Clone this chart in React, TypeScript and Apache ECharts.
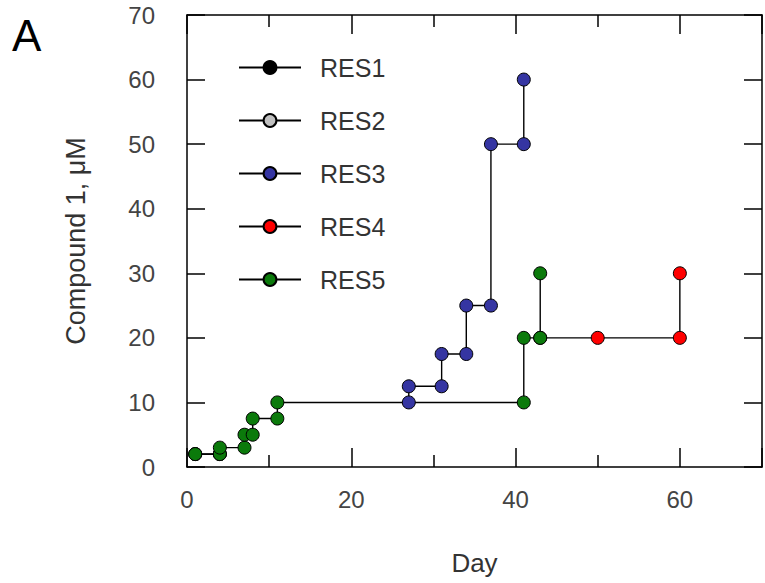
import React, { useEffect, useRef } from "react";
import * as echarts from "echarts";

const seriesNames = ["RES1", "RES2", "RES3", "RES4", "RES5"];
const seriesColors = ["#000000", "#c0c0c0", "#3535a2", "#ff0000", "#0b7a0b"];

const res1: number[][] = [[1, 2], [4, 2]];
const res2: number[][] = [[1, 2], [4, 2]];
const res3: number[][] = [
  [27, 10], [27, 12.5], [31, 12.5], [31, 17.5], [34, 17.5],
  [34, 25], [37, 25], [37, 50], [41, 50], [41, 60],
];
const res4: number[][] = [[43, 20], [50, 20], [60, 20], [60, 30]];
const res5: number[][] = [
  [1, 2], [4, 2], [4, 3], [7, 3], [7, 5], [8, 5], [8, 7.5], [11, 7.5],
  [11, 10], [41, 10], [41, 20], [43, 20], [43, 30],
];
const seriesData = [res1, res2, res3, res4, res5];
const seriesZ = [2, 2, 4, 2, 3];

const xMin = 0;
const xMax = 70;
const yMin = 0;
const yMax = 70;

const FONT = "'Liberation Sans', Arial, sans-serif";

export default function App() {
  const ref = useRef<HTMLDivElement>(null);
  useEffect(() => {
    if (!ref.current) return;
    const chart = echarts.init(ref.current, undefined, { renderer: "svg" });
    const axisLine = { show: true, onZero: false, lineStyle: { color: "#000", width: 1.5 } };
    const majorTick = (len: number) => ({
      show: true,
      inside: true,
      length: len,
      lineStyle: { color: "#000", width: 1.5 },
    });
    const minorTick = { show: true, splitNumber: 2, length: 12, lineStyle: { color: "#000", width: 1.5 } };
    chart.setOption({
      animation: false,
      backgroundColor: "#fff",
      textStyle: { fontFamily: FONT },
      grid: { left: 187, top: 15, right: 2, bottom: 116, containLabel: false },
      graphic: [
        {
          type: "text",
          left: 12,
          top: 13,
          style: { text: "A", font: `44px ${FONT}`, fill: "#000" },
        },
      ],
      legend: {
        orient: "vertical",
        left: 233,
        top: 50,
        itemWidth: 62,
        itemHeight: 16,
        itemGap: 28,
        data: seriesNames,
        textStyle: {
          fontSize: 25,
          lineHeight: 25,
          color: "#333",
          fontFamily: FONT,
          padding: [0, 0, 0, 14],
        },
        selectedMode: false,
      },
      xAxis: [
        {
          type: "value",
          min: xMin,
          max: xMax,
          interval: 20,
          position: "bottom",
          name: "Day",
          nameLocation: "middle",
          nameGap: 83,
          nameTextStyle: { fontSize: 26, color: "#333", fontFamily: FONT },
          axisLine,
          axisTick: majorTick(19),
          minorTick,
          axisLabel: {
            fontSize: 24,
            color: "#444",
            margin: 20,
            fontFamily: FONT,
            formatter: (v: number) => (v === 70 ? "" : String(v)),
          },
          splitLine: { show: false },
        },
        {
          type: "value",
          min: xMin,
          max: xMax,
          interval: 20,
          position: "top",
          axisLine,
          axisTick: majorTick(19),
          minorTick,
          axisLabel: { show: false },
          splitLine: { show: false },
        },
      ],
      yAxis: [
        {
          type: "value",
          min: yMin,
          max: yMax,
          interval: 10,
          position: "left",
          name: "Compound 1, μM",
          nameLocation: "middle",
          nameGap: 98,
          nameTextStyle: { fontSize: 27, color: "#333", fontFamily: FONT },
          axisLine,
          axisTick: majorTick(18),
          axisLabel: { fontSize: 24, color: "#444", margin: 32, fontFamily: FONT },
          splitLine: { show: false },
        },
        {
          type: "value",
          min: yMin,
          max: yMax,
          interval: 10,
          position: "right",
          axisLine,
          axisTick: majorTick(18),
          axisLabel: { show: false },
          splitLine: { show: false },
        },
      ],
      series: seriesNames.map((name, i) => ({
        name,
        type: "line",
        data: seriesData[i],
        z: seriesZ[i],
        symbol: "circle",
        symbolSize: 13,
        showAllSymbol: true,
        lineStyle: { color: "#000", width: 1.4 },
        itemStyle: { color: seriesColors[i], borderColor: "#000", borderWidth: 1 },
        emphasis: { disabled: true },
      })),
    });
    return () => chart.dispose();
  }, []);
  return (
    <div
      ref={ref}
      style={{ position: "fixed", left: 0, top: 0, width: 765, height: 583 }}
    />
  );
}
